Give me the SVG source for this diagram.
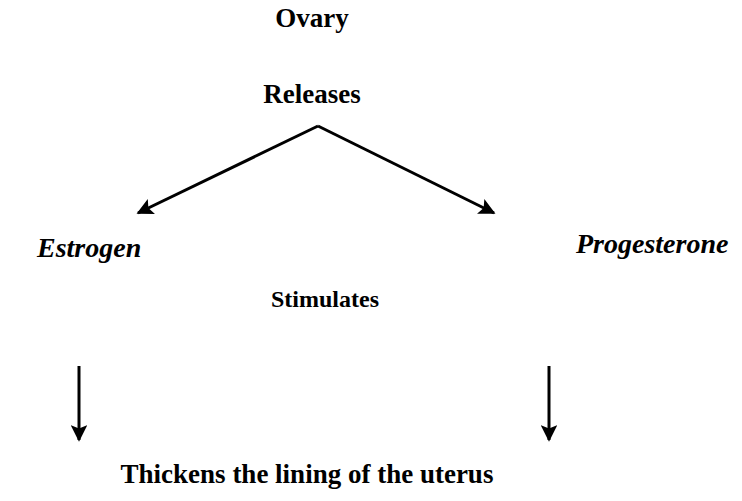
<svg xmlns="http://www.w3.org/2000/svg" width="742" height="501" viewBox="0 0 742 501">
<style>
text{font-family:"Liberation Serif","Times New Roman",serif;font-weight:bold;fill:#000;font-size:27px}
.it{font-style:italic;font-size:28px}
.mid{text-anchor:middle}
.conn line{stroke:#000;stroke-width:3;marker-end:url(#ah)}
</style>
<defs>
<marker id="ah" viewBox="0 0 10 10" refX="9" refY="5" markerWidth="5.5" markerHeight="5.5" markerUnits="strokeWidth" orient="auto">
<path d="M0,0 L10,5 L0,10 L2,5 z" fill="#000"/>
</marker>
</defs>
<rect width="742" height="501" fill="#fff"/>
<g id="ovary"><text class="mid" x="312" y="27">Ovary</text></g>
<g id="releases"><text class="mid" x="312" y="103">Releases</text></g>
<g id="estrogen"><text class="it" x="37" y="257">Estrogen</text></g>
<g id="progesterone"><text class="it" x="576" y="253">Progesterone</text></g>
<g id="stimulates"><text class="mid" x="325" y="307" style="font-size:24px">Stimulates</text></g>
<g id="thickens"><text class="mid" x="307" y="483">Thickens the lining of the uterus</text></g>
<g class="conn" id="connectors">
<line x1="318" y1="126" x2="138" y2="213"/>
<line x1="318" y1="126" x2="494" y2="213"/>
<line x1="79" y1="366" x2="79" y2="440"/>
<line x1="549" y1="366" x2="549" y2="440"/>
</g>
</svg>
